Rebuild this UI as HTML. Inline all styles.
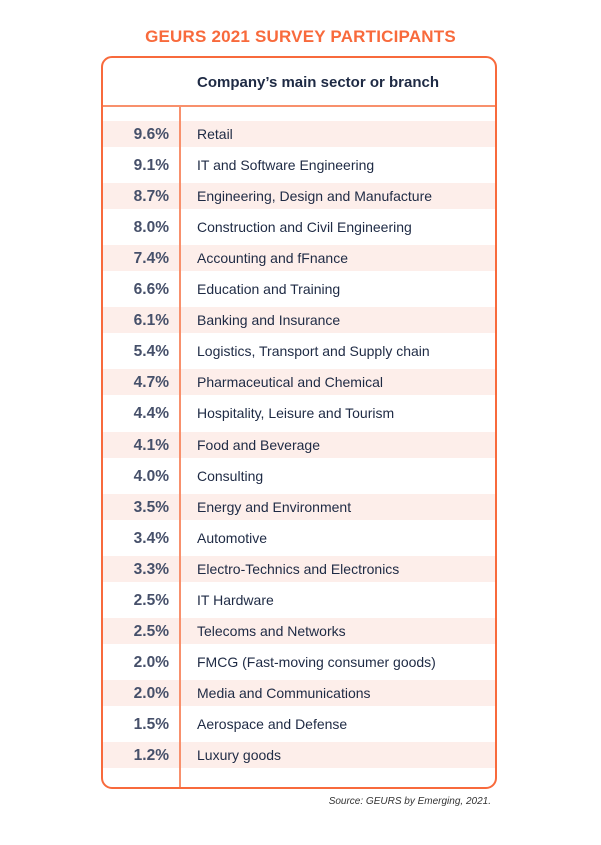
<!DOCTYPE html>
<html><head><meta charset="utf-8"><style>
body{margin:0;width:601px;height:845px;background:#fff;font-family:"Liberation Sans",sans-serif;position:relative;overflow:hidden}
.t{position:absolute;left:0;width:601px;text-align:center;top:27px;font-size:17px;font-weight:bold;color:#f86a3c;letter-spacing:0.2px}
.box{position:absolute;left:101px;top:56px;width:392px;height:729px;border:2.5px solid #f86a3c;border-radius:11px}
.hdr{position:absolute;left:197px;top:74px;font-size:15px;font-weight:bold;color:#1e2a44}
.hl{position:absolute;left:103px;top:105px;width:392px;height:1.5px;background:#f8906c}
.vl{position:absolute;left:179px;top:106px;width:1.5px;height:681px;background:#f8906c;z-index:2}
.row{position:absolute;left:103px;width:392px;height:26px}
.sh{background:#fdeeea}
.v{position:absolute;right:326px;top:5px;font-size:15.5px;font-weight:bold;color:#46506a}
.l{position:absolute;left:94px;top:5px;font-size:14px;color:#1e2a44}
.src{position:absolute;right:110px;top:796px;font-size:10px;font-style:italic;color:#333}
</style></head><body>
<div class="t">GEURS 2021 SURVEY PARTICIPANTS</div>
<div class="box"></div>
<div class="hdr">Company’s main sector or branch</div>
<div class="hl"></div>
<div class="vl"></div>
<div id="rows"></div>
<div class="src">Source: GEURS by Emerging, 2021.</div>
<script>
const sectors=["Retail","IT and Software Engineering","Engineering, Design and Manufacture","Construction and Civil Engineering","Accounting and fFnance","Education and Training","Banking and Insurance","Logistics, Transport and Supply chain","Pharmaceutical and Chemical","Hospitality, Leisure and Tourism","Food and Beverage","Consulting","Energy and Environment","Automotive","Electro-Technics and Electronics","IT Hardware","Telecoms and Networks","FMCG (Fast-moving consumer goods)","Media and Communications","Aerospace and Defense","Luxury goods"];
const shares=[9.6,9.1,8.7,8.0,7.4,6.6,6.1,5.4,4.7,4.4,4.1,4.0,3.5,3.4,3.3,2.5,2.5,2.0,2.0,1.5,1.2];
const c=document.getElementById('rows');
sectors.forEach((s,i)=>{
  const r=document.createElement('div');
  r.className='row'+(i%2===0?' sh':'');
  r.style.top=(121+i*31.05)+'px';
  
  
  const v=document.createElement('div');v.className='v';v.textContent=shares[i].toFixed(1)+'%';
  
  
  const l=document.createElement('div');l.className='l';l.textContent=s;
  
  
  r.appendChild(v);r.appendChild(l);c.appendChild(r);
});
</script>
</body></html>
